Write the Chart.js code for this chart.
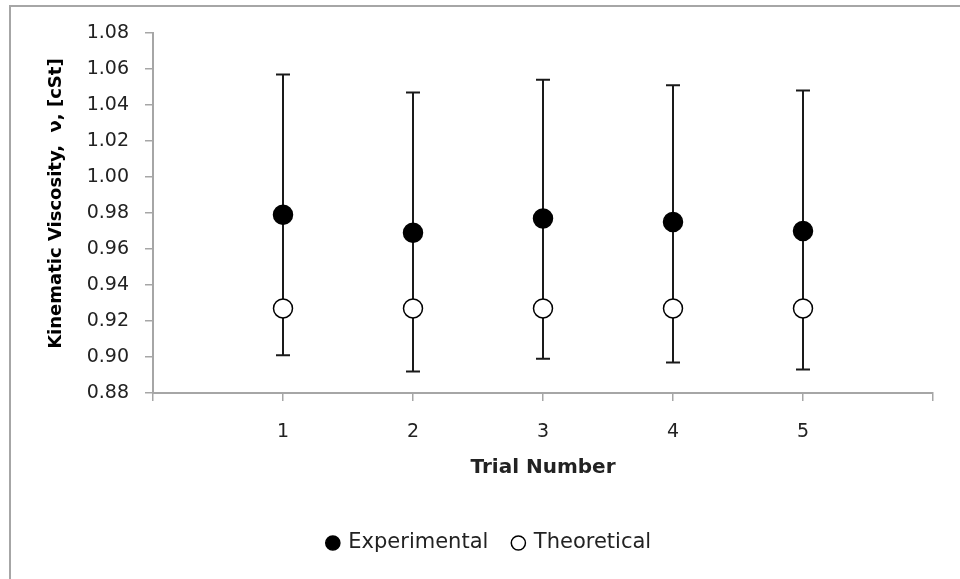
<!DOCTYPE html>
<html>
<head>
<meta charset="utf-8">
<script src="https://cdn.jsdelivr.net/npm/chart.js@4.4.0/dist/chart.umd.min.js"></script>
<style>
  html, body { margin: 0; padding: 0; background: #fff; }
  #wrap { position: relative; width: 960px; height: 579px; overflow: hidden; }
  #frame { position: absolute; left: 9px; top: 5px; width: 980px; height: 600px; border: 2px solid #a6a6a6; box-sizing: border-box; }
  canvas { position: absolute; left: 0; top: 0; }
</style>
</head>
<body>
<div id="wrap">
  <div id="frame"></div>
  <canvas id="grafico" width="960" height="579"></canvas>
</div>
<script>
// data
const trials = [1, 2, 3, 4, 5];
const experimental = [0.979, 0.969, 0.977, 0.975, 0.970];
const theoretical = [0.927, 0.927, 0.927, 0.927, 0.927];
const errTop = [1.057, 1.047, 1.054, 1.051, 1.048];
const errBottom = [0.901, 0.892, 0.899, 0.897, 0.893];
const yTicks = [0.88, 0.90, 0.92, 0.94, 0.96, 0.98, 1.00, 1.02, 1.04, 1.06, 1.08];

const axisGrey = '#a6a6a6';
const fontFam = 'DejaVu Sans';

// error bars drawn on the chart's own scales
const errorBars = {
  id: 'errorBars',
  beforeDatasetsDraw(chart) {
    const ctx = chart.ctx;
    const xs = chart.scales.x, ys = chart.scales.y;
    ctx.save();
    ctx.strokeStyle = '#1a1a1a';
    ctx.lineWidth = 2;
    trials.forEach((t, i) => {
      const x = xs.getPixelForValue(t);
      const yTop = ys.getPixelForValue(errTop[i]);
      const yBot = ys.getPixelForValue(errBottom[i]);
      ctx.beginPath();
      ctx.moveTo(x, yTop); ctx.lineTo(x, yBot);
      ctx.moveTo(x - 7, yTop); ctx.lineTo(x + 7, yTop);
      ctx.moveTo(x - 7, yBot); ctx.lineTo(x + 7, yBot);
      ctx.stroke();
    });
    ctx.restore();
  }
};

const ctx = document.getElementById('grafico').getContext('2d');
const chart = new Chart(ctx, {
  type: 'scatter',
  data: {
    datasets: [{
      label: 'Experimental',
      data: trials.map((t, i) => ({x: t, y: experimental[i]})),
      pointStyle: 'circle',
      pointRadius: 9.5,
      pointBackgroundColor: '#000',
      pointBorderColor: '#000',
      pointBorderWidth: 1.5,
      backgroundColor: '#000',
      borderColor: '#000',
      showLine: false
    }, {
      label: 'Theoretical',
      data: trials.map((t, i) => ({x: t, y: theoretical[i]})),
      pointStyle: 'circle',
      pointRadius: 9.5,
      pointBackgroundColor: '#fff',
      pointBorderColor: '#000',
      pointBorderWidth: 1.5,
      backgroundColor: '#fff',
      borderColor: '#333',
      showLine: false
    }]
  },
  options: {
    responsive: false,
    animation: false,
    layout: { padding: { left: 46, top: 33, right: 27, bottom: 15.5 } },
    plugins: {
      tooltip: { enabled: false },
      legend: {
        position: 'bottom',
        labels: {
          usePointStyle: true,
          boxWidth: 10,
          boxHeight: 10,
          padding: 25,
          color: '#222',
          font: { family: fontFam, size: 21 }
        }
      }
    },
    scales: {
      x: {
        type: 'linear',
        min: 0,
        max: 6,
        afterFit: s => { s.height = 114.5; },
        afterBuildTicks: s => { s.ticks = [0, 1, 2, 3, 4, 5, 6].map(v => ({value: v})); },
        ticks: {
          padding: 20,
          color: '#222',
          font: { family: fontFam, size: 19 },
          callback: v => trials.includes(v) ? String(v) : ''
        },
        grid: { drawOnChartArea: false, drawTicks: true, tickLength: 8, color: axisGrey, lineWidth: 1.5 },
        border: { color: axisGrey, width: 2 },
        title: {
          display: true,
          text: 'Trial Number',
          color: '#222',
          padding: { top: 0, bottom: 27.5 },
          font: { family: fontFam, size: 20, weight: 'bold' }
        }
      },
      y: {
        min: 0.88,
        max: 1.08,
        afterFit: s => { s.width = 107; },
        afterBuildTicks: s => { s.ticks = yTicks.map(v => ({value: v})); },
        ticks: {
          padding: 16,
          color: '#222',
          font: { family: fontFam, size: 19 },
          callback: v => v.toFixed(2)
        },
        grid: { drawOnChartArea: false, drawTicks: true, tickLength: 8, color: axisGrey, lineWidth: 1.5 },
        border: { color: axisGrey, width: 2 },
        title: {
          display: true,
          text: '\u00a0\u00a0\u00a0Kinematic Viscosity,  ν, [cSt]',
          color: '#000',
          padding: { top: 0, bottom: 0 },
          font: { family: fontFam, size: 18, weight: 'bold' }
        }
      }
    }
  },
  plugins: [errorBars]
});
</script>
</body>
</html>
